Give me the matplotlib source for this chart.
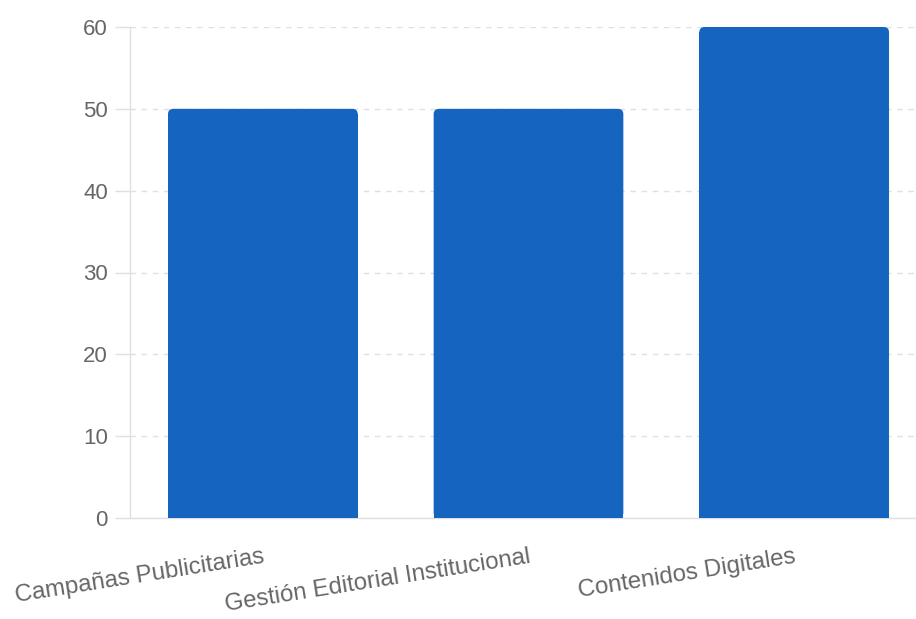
import matplotlib
matplotlib.use("Agg")
import matplotlib.pyplot as plt
from matplotlib.patches import FancyBboxPatch

categories = ["Campañas Publicitarias", "Gestión Editorial Institucional", "Contenidos Digitales"]
values = [50, 50, 60]
y_ticks = [0, 10, 20, 30, 40, 50, 60]

BAR_COLOR = "#1565C0"
GRID_COLOR = "#e0e0e0"
TEXT_COLOR = "#666666"

plt.rcParams["font.family"] = ["Liberation Sans", "DejaVu Sans"]

fig = plt.figure(figsize=(9.16, 6.19), dpi=100)
ax = fig.add_axes([130 / 916, 1 - 518 / 619, 797 / 916, 491 / 619])

x = list(range(len(categories)))
bars = ax.bar(x, values, width=0.714, color=BAR_COLOR, zorder=3)

# rounded top corners: full rounded patch + square lower part
r_x, r_y = 0.02, 0.65
for b in bars:
    bx, bw, bh = b.get_x(), b.get_width(), b.get_height()
    b.set_height(bh - r_y)
    ax.add_patch(FancyBboxPatch((bx, 0), bw, bh,
                                boxstyle=f"round,pad=0,rounding_size={r_x}",
                                mutation_aspect=r_y / r_x,
                                facecolor=BAR_COLOR, edgecolor="none", zorder=3))

ax.set_xlim(-0.5, len(categories) - 0.5)
ax.set_ylim(0, 60)
ax.set_yticks(y_ticks)
ax.set_xticks(x)
ax.set_xticklabels(categories, rotation=9, ha="right", va="top",
                   rotation_mode="anchor", fontsize=17.3, color=TEXT_COLOR)

ax.yaxis.grid(True, color=GRID_COLOR, linestyle=(0, (4, 4)), linewidth=1, zorder=0)
ax.xaxis.grid(False)

for side in ["top", "right"]:
    ax.spines[side].set_visible(False)
for side in ["left", "bottom"]:
    ax.spines[side].set_color(GRID_COLOR)
    ax.spines[side].set_linewidth(1)

ax.tick_params(axis="y", length=11, width=1, color=GRID_COLOR, pad=5,
               labelsize=16, labelcolor=TEXT_COLOR)
ax.tick_params(axis="x", length=0, pad=20)

fig.savefig("out.png", dpi=100)
